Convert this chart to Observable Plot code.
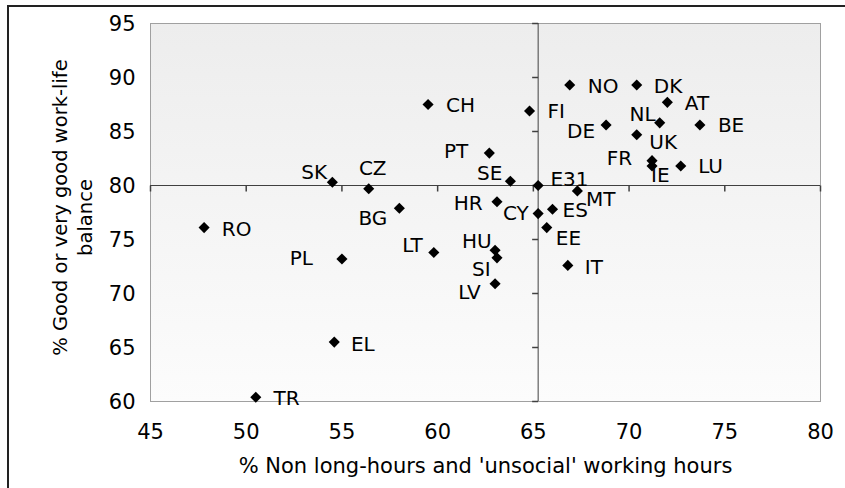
<!DOCTYPE html>
<html><head><meta charset="utf-8">
<script src="https://cdn.jsdelivr.net/npm/d3@7"></script>
<script src="https://cdn.jsdelivr.net/npm/@observablehq/plot@0.6"></script>
<style>
html,body{margin:0;padding:0;background:#fff;overflow:hidden;}
#wrap{position:relative;width:845px;height:488px;overflow:hidden;background:#fff;}
#border{position:absolute;left:7px;top:5px;width:900px;height:900px;border:2px solid #222;box-sizing:border-box;}
#chart{position:absolute;left:0;top:0;}
</style></head><body>
<div id="wrap"><div id="border"></div><div id="chart"></div></div>
<script>
// ---- data ----
const countries = ["NO","DK","AT","BE","CH","FI","DE","NL","UK","PT","FR","IE","LU","SE","E31","MT","HR","ES","CY","SK","CZ","BG","RO","PL","LT","HU","SI","LV","EE","IT","EL","TR"];
const nonLongHours = [66.9,70.4,72.0,73.7,59.5,64.8,68.8,71.6,70.4,62.7,71.2,71.2,72.7,63.8,65.25,67.3,63.1,66.0,65.25,54.5,56.4,58.0,47.8,55.0,59.8,63.0,63.1,63.0,65.7,66.8,54.6,50.5];
const goodBalance = [89.3,89.3,87.7,85.6,87.5,86.9,85.6,85.8,84.7,83.0,82.3,81.8,81.8,80.4,80.0,79.5,78.5,77.8,77.4,80.3,79.7,77.9,76.1,73.2,73.8,74.0,73.3,70.9,76.1,72.6,65.5,60.4];
const xTicks = [45,50,55,60,65,70,75,80];
const yTicks = [60,65,70,75,80,85,90,95];
const xTitle = "% Non long-hours and 'unsocial' working hours";
const yTitleLines = ["% Good or very good work-life","balance"];

// ---- label placement (layout only): [textAnchor, dx, dy] ----
const labelPlacement = {
  NO:["start",18,2], DK:["start",17,2], AT:["start",17.5,1.5], BE:["start",18,1],
  CH:["start",18,1.5], FI:["start",18,1], DE:["end",-11,7], NL:["end",-4,-8],
  UK:["start",12.6,7.5], PT:["end",-21,-2], FR:["end",-20,-2], IE:["start",-1,10],
  LU:["start",17.4,1], SE:["end",-8,-7.4], E31:["start",12.3,-5.7], MT:["start",8.7,8.6],
  HR:["end",-14.3,2], ES:["start",10,1], CY:["end",-9.4,0], SK:["end",-5.3,-10],
  CZ:["middle",4,-20.6], BG:["end",-12,10], RO:["start",17.7,2.3], PL:["end",-29,-0.7],
  LT:["end",-11,-6.4], HU:["end",-3.3,-8.7], SI:["end",-6.4,11.7], LV:["end",-14.3,9],
  EE:["start",9,11.3], IT:["start",17,1.7], EL:["start",16.7,2], TR:["start",17.7,1]
};

const data = countries.map((c,i)=>({country:c, x:nonLongHours[i], y:goodBalance[i]}));
const e31 = data.find(d=>d.country==="E31");

const tickDown = {draw(ctx){ctx.moveTo(0,0); ctx.lineTo(0,6);}};
const tickLeft = {draw(ctx){ctx.moveTo(0,0); ctx.lineTo(-6,0);}};

const gradientDefs = () => {
  const defs = d3.create("svg:defs");
  const g = defs.append("linearGradient").attr("id","bg").attr("x1",0).attr("y1",0).attr("x2",0).attr("y2",1);
  g.append("stop").attr("offset","0%").attr("stop-color","#ededed");
  g.append("stop").attr("offset","100%").attr("stop-color","#fcfcfc");
  return defs.node();
};

const labelMarks = countries.map(c => {
  const [anchor, dx, dy] = labelPlacement[c];
  return Plot.text(data.filter(d=>d.country===c), {x:"x", y:"y", text:"country", textAnchor:anchor, lineAnchor:"middle", dx, dy, fill:"#000"});
});

const chart = Plot.plot({
  width: 845, height: 488,
  marginTop: 23, marginRight: 25, marginBottom: 87, marginLeft: 150,
  style: {fontFamily: "'DejaVu Sans', Verdana, sans-serif", fontSize: "20px", background: "transparent", color: "#000"},
  x: {domain: [45,80]},
  y: {domain: [60,95]},
  marks: [
    gradientDefs,
    Plot.frame({fill: "url(#bg)", stroke: "#a0a0a0"}),
    Plot.ruleX([e31], {x: "x", stroke: "#404040", strokeWidth: 1}),
    Plot.ruleY([e31], {y: "y", stroke: "#404040", strokeWidth: 1}),
    Plot.dot(xTicks, {x: d=>d, y: ()=>e31.y, symbol: tickDown, r: 3, stroke: "#404040", fill: "none"}),
    Plot.dot(yTicks, {x: ()=>e31.x, y: d=>d, symbol: tickLeft, r: 3, stroke: "#404040", fill: "none"}),
    Plot.dot(data, {x: "x", y: "y", symbol: "diamond2", r: 5, fill: "#000", stroke: "none"}),
    ...labelMarks,
    Plot.axisX({ticks: xTicks, tickSize: 0, tickPadding: 23, label: null, fontSize: 21, tickFormat: d=>String(d)}),
    Plot.axisY({ticks: yTicks, tickSize: 0, tickPadding: 15, label: null, fontSize: 21, tickFormat: d=>String(d), dy: 1}),
    Plot.text([xTitle], {text: d=>d, frameAnchor: "bottom", textAnchor: "middle", lineAnchor: "middle", fontSize: 21, dy: 65}),
    Plot.text([yTitleLines[0]], {text: d=>d, frameAnchor: "left", textAnchor: "middle", lineAnchor: "middle", fontSize: 19.5, rotate: -90, dx: -90, dy: -5}),
    Plot.text([yTitleLines[1]], {text: d=>d, frameAnchor: "left", textAnchor: "middle", lineAnchor: "middle", fontSize: 19.5, rotate: -90, dx: -65, dy: 5})
  ]
});
document.getElementById("chart").appendChild(chart);
</script>
</body></html>
